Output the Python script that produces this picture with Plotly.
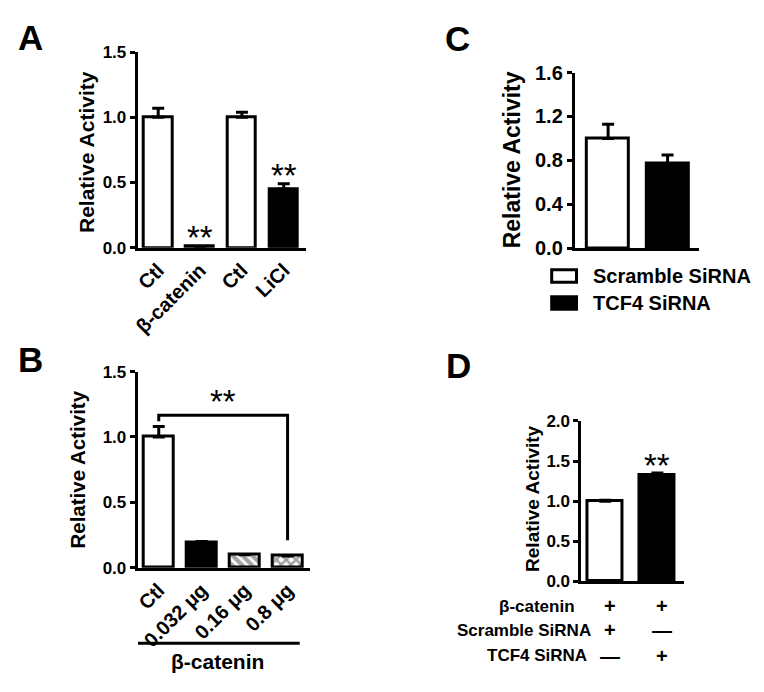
import plotly.graph_objects as go

# The page body adds an 8px margin, so the figure is drawn 8px smaller and
# every reference pixel position is shifted by that offset.
PAGE_W, PAGE_H = 764, 692
OFF = 8
W, H = PAGE_W - OFF, PAGE_H - OFF
FONT = "Liberation Sans, Arial, sans-serif"

# ---------------- data ----------------
a_labels = ["Ctl", "β-catenin", "Ctl", "LiCl"]
a_values = [1.0, 0.01, 1.0, 0.45]
a_err = [0.07, 0.0, 0.04, 0.04]
a_colors = ["white", "white", "white", "black"]
a_sig = ["", "**", "", "**"]

b_labels = ["Ctl", "0.032 μg", "0.16 μg", "0.8 μg"]
b_values = [1.0, 0.19, 0.10, 0.09]
b_err = [0.08, 0.01, 0.0, 0.0]
b_colors = ["white", "black", "white", "white"]
b_patterns = ["", "", "\\", "x"]

c_labels = ["Scramble SiRNA", "TCF4 SiRNA"]
c_values = [1.0, 0.77]
c_err = [0.13, 0.08]
c_colors = ["white", "black"]

d_values = [1.0, 1.33]
d_err = [0.01, 0.02]
d_colors = ["white", "black"]
d_sig = ["", "**"]
d_rows = ["β-catenin", "Scramble SiRNA", "TCF4 SiRNA"]
d_signs = [["+", "+"], ["+", "—"], ["—", "+"]]


def px(x):
    return (x - OFF) / W


def py(y):
    return 1 - (y - OFF) / H


fig = go.Figure()

LW = 3


def add_bars(xa, ya, vals, errs, colors, width, patterns=None):
    marker = dict(color=colors, line=dict(color="black", width=LW))
    if patterns is not None:
        marker["pattern"] = dict(shape=patterns, fgcolor="black", bgcolor="white",
                                 size=7, solidity=0.6, fillmode="overlay")
    fig.add_trace(go.Bar(
        x=list(range(len(vals))), y=vals, width=width, marker=marker,
        error_y=dict(type="data", symmetric=False, array=errs,
                     arrayminus=[0] * len(vals), color="black", thickness=LW, width=6),
        xaxis=xa, yaxis=ya, showlegend=False, hoverinfo="skip"))


add_bars("x", "y", a_values, a_err, a_colors, 0.67)
add_bars("x2", "y2", b_values, b_err, b_colors, 0.69, b_patterns)
add_bars("x3", "y3", c_values, c_err, c_colors, 0.70)
add_bars("x4", "y4", d_values, d_err, d_colors, 0.67)

tickfont_small = dict(family=FONT, size=17, color="black", weight="bold")
tickfont_cat = dict(family=FONT, size=20, color="black", weight="bold")
tickfont_big = dict(family=FONT, size=20, color="black", weight="bold")


def yax(domain, rng, dtick, tf):
    return dict(domain=domain, range=rng, dtick=dtick, tick0=0, tickformat=".1f",
                showline=True, linecolor="black", linewidth=LW, ticks="outside",
                ticklen=5, tickwidth=LW, tickcolor="black", showgrid=False,
                zeroline=False, tickfont=tf, fixedrange=True)


def xax(domain, rng, anchor, labels=None):
    d = dict(domain=domain, range=rng, anchor=anchor, showline=True, linecolor="black",
             linewidth=LW, ticks="", showgrid=False, zeroline=False, fixedrange=True)
    if labels:
        d.update(tickmode="array", tickvals=list(range(len(labels))), ticktext=labels,
                 tickangle=-45, tickfont=tickfont_cat)
    else:
        d.update(showticklabels=False)
    return d


fig.update_layout(
    width=W, height=H, margin=dict(l=0, r=0, t=0, b=0),
    paper_bgcolor="white", plot_bgcolor="white",
    font=dict(family=FONT, color="black"),
    bargap=0,
    xaxis=xax([px(132.7), px(302.7)], [-0.49, 3.54], "y", a_labels),
    yaxis=yax([py(244.3), py(42.3)], [0, 1.5], 0.5, tickfont_small),
    xaxis2=xax([px(132.7), px(306.7)], [-0.49, 3.53], "y2", b_labels),
    yaxis2=dict(yax([py(575), py(372.3)], [0, 1.5], 0.5, tickfont_small), anchor="x2"),
    xaxis3=xax([px(573.3), px(698)], [-0.56, 1.52], "y3"),
    yaxis3=dict(yax([py(245), py(63.3)], [0, 1.6], 0.4, tickfont_big), anchor="x3"),
    xaxis4=xax([px(580), px(683.3)], [-0.457, 1.51], "y4"),
    yaxis4=dict(yax([py(589), py(423.3)], [0, 2.0], 0.5, tickfont_small), anchor="x4"),
)
fig.layout.yaxis.anchor = "x"

ann = []
shapes = []

# panel letters
for letter, (lx, ly) in {"A": (25, 27), "B": (25, 360), "C": (455, 28), "D": (456, 366)}.items():
    ann.append(dict(text=letter, x=px(lx), y=py(ly), xref="paper", yref="paper",
                    showarrow=False, xanchor="center", yanchor="middle",
                    font=dict(family=FONT, size=35, color="black", weight="bold")))

# y-axis titles
for (tx, ty, sz) in [(81, 145, 21), (72, 473, 20.5), (510, 154, 23), (530, 503, 19)]:
    ann.append(dict(text="Relative Activity", x=px(tx), y=py(ty), xref="paper", yref="paper",
                    showarrow=False, textangle=-90, xanchor="center", yanchor="middle",
                    font=dict(family=FONT, size=sz, color="black", weight="bold")))

star_font = dict(family=FONT, size=33, color="black")

for i, s in enumerate(a_sig):
    if s:
        ann.append(dict(text=s, x=i, y=a_values[i] + a_err[i], xref="x", yref="y",
                        showarrow=False, yanchor="bottom", yshift=-12, font=star_font))
for i, s in enumerate(d_sig):
    if s:
        ann.append(dict(text=s, x=i, y=d_values[i] + d_err[i], xref="x4", yref="y4",
                        showarrow=False, yanchor="bottom", yshift=-13, font=star_font))

# bracket B
top_b = b_values[0] + b_err[0]
br_y = top_b + 0.087
last = len(b_values) - 1
shapes.append(dict(type="path", xref="x2", yref="y2",
                   path=f"M 0 {top_b + 0.04} L 0 {br_y} L {last} {br_y} L {last} {b_values[last] + 0.12}",
                   line=dict(color="black", width=LW)))
ann.append(dict(text="**", x=last / 2, y=br_y, xref="x2", yref="y2", showarrow=False,
                yanchor="bottom", yshift=-7, font=star_font))

shapes.append(dict(type="line", xref="paper", yref="paper", x0=px(133), x1=px(296),
                   y0=py(653), y1=py(653), line=dict(color="black", width=LW)))
ann.append(dict(text="β-catenin", x=px(213), y=py(672), xref="paper", yref="paper",
                showarrow=False, xanchor="center", yanchor="middle",
                font=dict(family=FONT, size=21, color="black", weight="bold")))

leg_font = dict(family=FONT, size=20, color="black", weight="bold")
for (label, color, cy) in zip(c_labels, c_colors, [273.5, 301.5]):
    shapes.append(dict(type="rect", xref="paper", yref="paper", x0=px(550), x1=px(575),
                       y0=py(cy - 6.5), y1=py(cy + 6.5), fillcolor=color,
                       line=dict(color="black", width=LW)))
    ann.append(dict(text=label, x=px(590), y=py(cy), xref="paper", yref="paper",
                    showarrow=False, xanchor="left", yanchor="middle", font=leg_font))

tab_font = dict(family=FONT, size=17, color="black", weight="bold")
row_y = [615, 639.5, 666]
row_right = [575, 592, 588]
for r, label in enumerate(d_rows):
    ann.append(dict(text=label, x=px(row_right[r]), y=py(row_y[r]), xref="paper", yref="paper",
                    showarrow=False, xanchor="right", yanchor="middle", font=tab_font))
    for c, sgn in enumerate(d_signs[r]):
        ann.append(dict(text=sgn, x=c + 0.09, y=py(row_y[r]), xref="x4", yref="paper",
                        showarrow=False, xanchor="center", yanchor="middle",
                        font=dict(family=FONT, size=20, color="black", weight="bold")))

fig.update_layout(annotations=ann, shapes=shapes)
fig.write_html("out.html")
